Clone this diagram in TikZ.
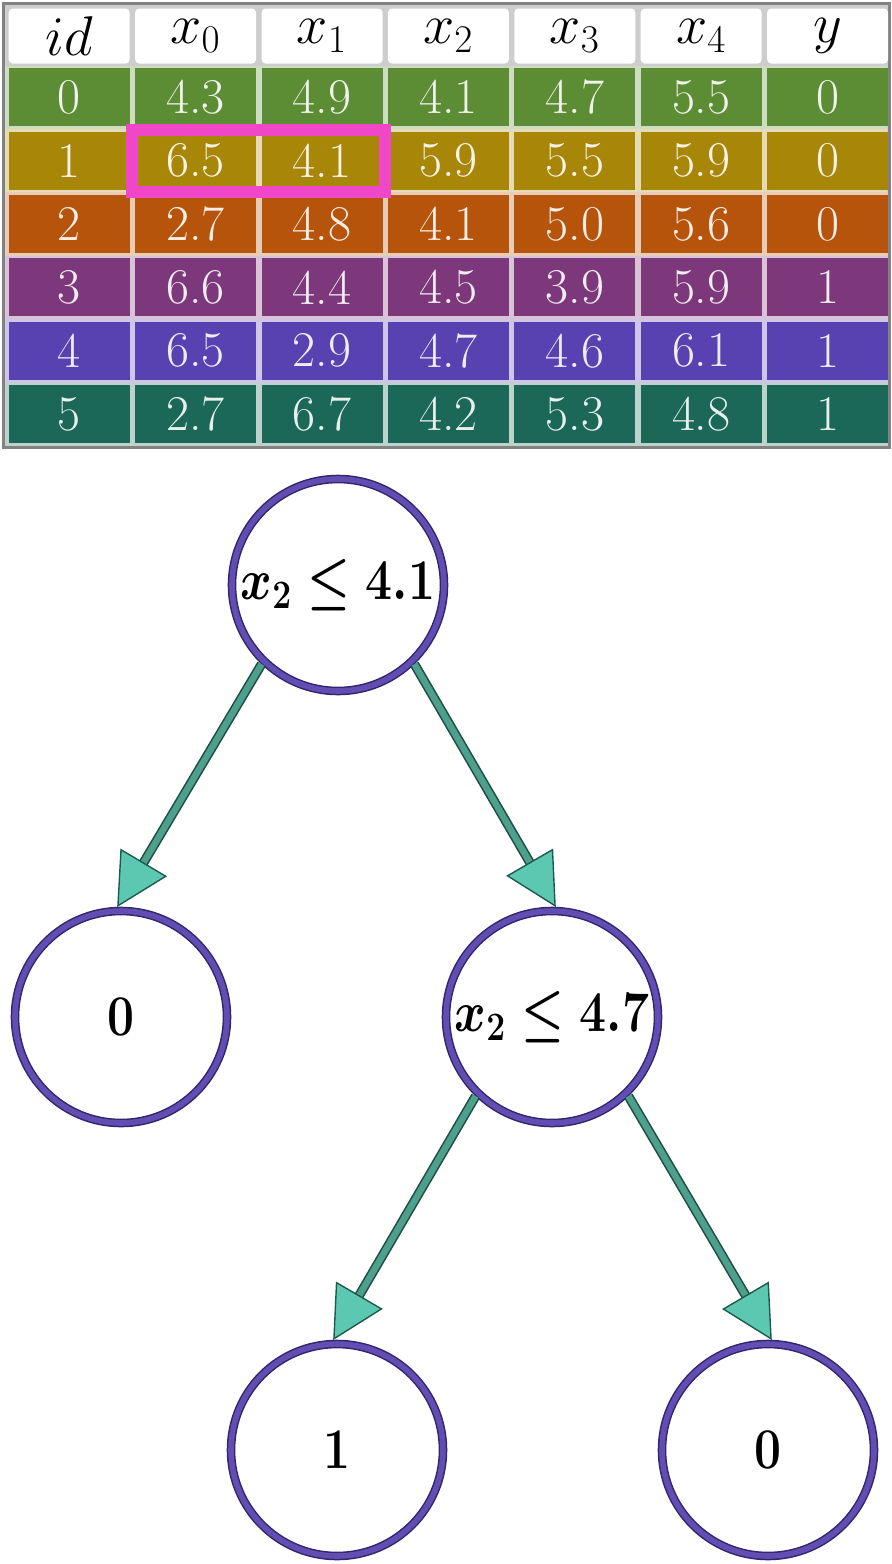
\RequirePackage{fix-cm}
\documentclass[tikz,border=0pt]{standalone}
\usepackage{amsmath}
\usepackage{amssymb}
\usetikzlibrary{arrows.meta}

\definecolor{row0}{RGB}{92,140,52}
\definecolor{row1}{RGB}{168,134,8}
\definecolor{row2}{RGB}{182,84,12}
\definecolor{row3}{RGB}{124,56,122}
\definecolor{row4}{RGB}{88,66,178}
\definecolor{row5}{RGB}{28,104,88}
\definecolor{framegray}{RGB}{130,130,130}
\definecolor{gapgray}{RGB}{205,205,205}
\definecolor{pinkbox}{RGB}{240,70,200}
\definecolor{ringdark}{RGB}{50,38,110}
\definecolor{ringlight}{RGB}{98,78,178}
\definecolor{shaft}{RGB}{78,160,140}
\definecolor{shaftdark}{RGB}{30,80,70}
\definecolor{tipfill}{RGB}{92,200,178}
\definecolor{tipdark}{RGB}{30,90,75}

\tikzset{
    cell/.style = {minimum width = 60.5pt, minimum height = 29pt, inner sep = 0pt, fill = #1, text = #1!10!white, font = \fontsize{25}{28}\selectfont},
    headcell/.style = {minimum width = 60.5pt, minimum height = 27.5pt, inner sep = 0pt, fill = white, rounded corners = 2pt, font = \fontsize{28}{30}\selectfont},
    hilite/.style = {draw = pinkbox, line width = 6pt},
    vertex/.style = {circle, minimum size = 106pt, inner sep = 0pt, outer sep = 2pt, fill = white, draw = ringdark, double = ringlight, double distance = 2.8pt, line width = 0.75pt, font = \fontsize{24}{28}\selectfont\boldmath},
    branch/.style = {draw = shaft, line width = 3.2pt, -{Triangle[length = 26pt, width = 27pt, color = tipdark, fill = tipfill, line width = 0.7pt]}, preaction = {draw = shaftdark, line width = 4.8pt, shorten > = 22pt, -}}
}

\begin{document}
\begin{tikzpicture}[x = 0.5pt, y = -0.5pt]
    \useasboundingbox (0,0) rectangle (892,1564);
    % table
    \draw[framegray, line width = 1.5pt, fill = gapgray] (3,3) rectangle (889,447);
    \foreach \r in {0,...,5}
        \fill[row\r!30!white] (5,{65.5+63.4*\r}) rectangle (887,{65.5+63.4*(\r+1)});
    \foreach \h [count=\c from 0] in {id, x_0, x_1, x_2, x_3, x_4, y}
        \node[headcell] (h-\c) at ({6+126.4*(\c+0.5)},36) {$\h$};
    \foreach \vals [count=\r from 0] in {{0,4.3,4.9,4.1,4.7,5.5,0},{1,6.5,4.1,5.9,5.5,5.9,0},{2,2.7,4.8,4.1,5.0,5.6,0},{3,6.6,4.4,4.5,3.9,5.9,1},{4,6.5,2.9,4.7,4.6,6.1,1},{5,2.7,6.7,4.2,5.3,4.8,1}}
        \foreach \v [count=\c from 0] in \vals
            \node[cell = row\r] (c-\r-\c) at ({6+126.4*(\c+0.5)},{65.5+63.4*(\r+0.5)}) {\v};
    \draw[hilite] (132,130) rectangle (385,192);

    % tree
    \node[vertex] (root) at (338,585) {\scalebox{1}[1.2]{$x_2 \leq 4.1$}};
    \node[vertex] (leafL) at (121,1017) {\scalebox{1}[1.2]{$0$}};
    \node[vertex] (split) at (552,1017) {\scalebox{1}[1.2]{$x_2 \leq 4.7$}};
    \node[vertex] (leaf1) at (337,1450) {\scalebox{1}[1.2]{$1$}};
    \node[vertex] (leaf0) at (768,1450) {\scalebox{1}[1.2]{$0$}};

    \draw[branch] (root.-134) -- (leafL.92);
    \draw[branch] (root.-46) -- (split.88);
    \draw[branch] (split.-134) -- (leaf1.92);
    \draw[branch] (split.-46) -- (leaf0.88);
\end{tikzpicture}
\end{document}
